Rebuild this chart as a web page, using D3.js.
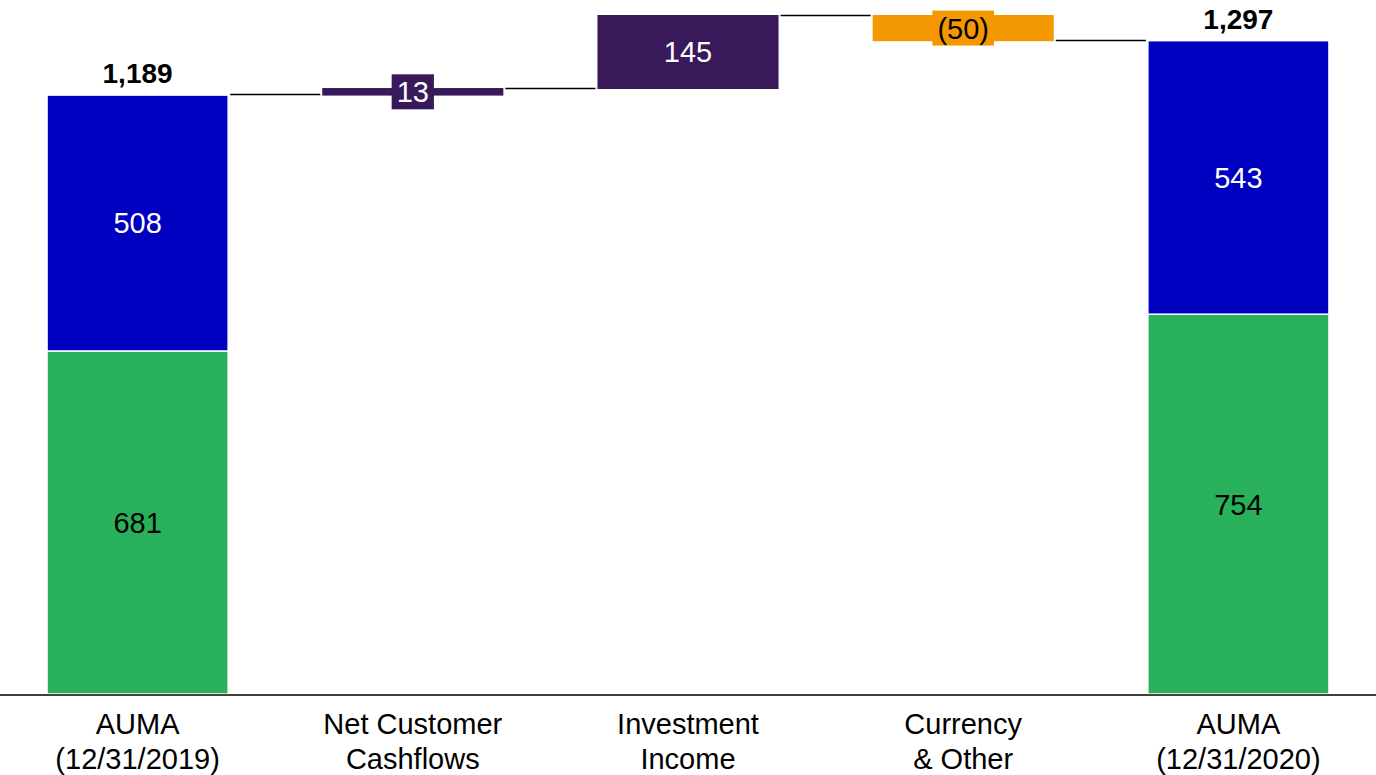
<!DOCTYPE html>
<html><head><meta charset="utf-8">
<script src="https://cdn.jsdelivr.net/npm/d3@7"></script>
<style>body{margin:0;background:#fff}svg{display:block}text{font-family:"Liberation Sans",Arial,sans-serif}</style>
</head><body>
<svg id="c" width="1376" height="775"></svg>
<script>
const categories = ["AUMA (12/31/2019)", "Net Customer Cashflows", "Investment Income", "Currency & Other", "AUMA (12/31/2020)"];
const categoryLines = [["AUMA","(12/31/2019)"],["Net Customer","Cashflows"],["Investment","Income"],["Currency","& Other"],["AUMA","(12/31/2020)"]];
const startSeries = [681, 508];   // green, blue at 12/31/2019
const endSeries = [754, 543];     // green, blue at 12/31/2020
const changes = [13, 145, -50];   // Net Customer Cashflows, Investment Income, Currency & Other
const totals = [1189, 1297];

const W = 1376, H = 775;
const FS = 29;
const svg = d3.select("#c");
const x = d3.scaleBand().domain(categories).range([0, W]).paddingInner(0.342).paddingOuter(0.171);
const y = d3.scaleLinear().domain([0, 1347]).range([694, 15.5]);
const bw = x.bandwidth();
const GREEN = "#28B05A", BLUE = "#0000C0", PURPLE = "#38195A", ORANGE = "#F39800";
const fmt = d3.format(",");
const fmtChange = v => v < 0 ? "(" + Math.abs(v) + ")" : String(v);

// stacked totals
function stacked(cat, vals) {
  const x0 = x(cat);
  const colors = [GREEN, BLUE];
  const textColors = ["#000", "#fff"];
  let cum = 0;
  vals.forEach((v, i) => {
    const y0 = y(cum), y1 = y(cum + v);
    svg.append("rect").attr("x", x0).attr("y", y1).attr("width", bw).attr("height", y0 - y1)
      .attr("fill", colors[i]).attr("stroke", "#fff").attr("stroke-width", 1.5);
    svg.append("text").attr("x", x0 + bw / 2).attr("y", (y0 + y1) / 2).attr("dy", "0.36em")
      .attr("text-anchor", "middle").attr("font-size", FS).attr("fill", textColors[i]).text(v);
    cum += v;
  });
  return cum;
}
stacked(categories[0], startSeries);
stacked(categories[4], endSeries);

// total labels
[[categories[0], totals[0]], [categories[4], totals[1]]].forEach(([c, t]) => {
  svg.append("text").attr("x", x(c) + bw / 2).attr("y", y(t) - 12).attr("text-anchor", "middle")
    .attr("font-size", 28).attr("font-weight", "bold").attr("fill", "#000").text(fmt(t));
});

// waterfall changes
let level = d3.sum(startSeries);
const levels = [level];
changes.forEach((ch, i) => {
  const c = categories[i + 1];
  const lo = Math.min(level, level + ch), hi = Math.max(level, level + ch);
  const color = ch < 0 ? ORANGE : PURPLE;
  const x0 = x(c);
  svg.append("rect").attr("x", x0).attr("y", y(hi) - 0.5).attr("width", bw).attr("height", y(lo) - y(hi) + 1)
    .attr("fill", color);
  const cy = (y(lo) + y(hi)) / 2;
  const t = svg.append("text").attr("x", x0 + bw / 2).attr("y", cy).attr("dy", "0.36em")
    .attr("text-anchor", "middle").attr("font-size", FS)
    .attr("fill", ch < 0 ? "#000" : "#fff").text(fmtChange(ch));
  const bb = t.node().getBBox();
  if (y(lo) - y(hi) < bb.height + 4) {
    svg.insert("rect", () => t.node()).attr("x", bb.x - 5).attr("y", cy - 17.5)
      .attr("width", bb.width + 10).attr("height", 35).attr("fill", color);
  }
  level += ch;
  levels.push(level);
});

// connectors
for (let i = 0; i < 4; i++) {
  const yy = Math.round(y(levels[i])) - 0.5;
  svg.append("line").attr("x1", x(categories[i]) + bw + 2).attr("x2", x(categories[i + 1]) - 2)
    .attr("y1", yy).attr("y2", yy).attr("stroke", "#000").attr("stroke-width", 1.5);
}

// axis
const axis = svg.append("g").attr("transform", "translate(0,695)")
  .call(d3.axisBottom(x).tickSize(0).tickFormat(""));
axis.select(".domain").attr("d", `M0,0H${W}`).attr("stroke", "#000").attr("stroke-width", 1.5);
categories.forEach((c, i) => {
  const t = svg.append("text").attr("x", x(c) + bw / 2).attr("y", 734).attr("text-anchor", "middle")
    .attr("font-size", FS).attr("fill", "#000");
  categoryLines[i].forEach((ln, j) => {
    t.append("tspan").attr("x", x(c) + bw / 2).attr("dy", j === 0 ? 0 : 35).text(ln);
  });
});
</script>
</body></html>
